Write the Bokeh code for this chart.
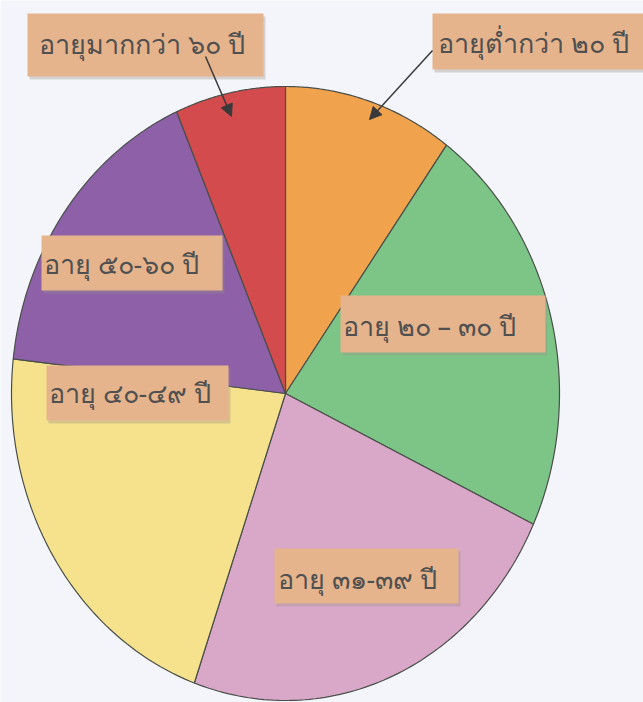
import numpy as np
from bokeh.plotting import figure
from bokeh.models import Range1d, Arrow, NormalHead, ColumnDataSource
from bokeh.core.properties import value
from bokeh.embed import file_html
from bokeh.resources import INLINE

# ---- data ----
labels = ["อายุต่ำกว่า ๒๐ ปี", "อายุ ๒๐ – ๓๐ ปี", "อายุ ๓๑-๓๙ ปี",
          "อายุ ๔๐-๔๙ ปี", "อายุ ๕๐-๖๐ ปี", "อายุมากกว่า ๖๐ ปี"]
values = [10, 22, 23.4, 21.4, 16.7, 6.5]
colors = ["#F0A24C", "#7DC587", "#D9A7C7", "#F6E28C", "#8D60A8", "#D34B4C"]

# ---- layout (screen px) ----
W, H = 643, 702
cx, cy, rx, ry = 285, 393, 274, 307
label_x = [437, 342, 277, 48, 43, 38]
label_y = [42, 325, 578, 392, 263, 43]
box_l = [432, 340, 274, 46, 41, 27]
box_r = [643, 545, 458, 228, 222, 263]
box_t = [13, 295, 548, 365, 235, 13]
box_b = [69, 352, 603, 420, 290, 76]

p = figure(width=W, height=H, output_backend="svg", toolbar_location=None,
           x_range=Range1d(0, W), y_range=Range1d(H, 0), min_border=0)
p.axis.visible = False
p.grid.visible = False
p.outline_line_color = None
p.background_fill_color = "#F3F5FA"
p.border_fill_color = "#F3F5FA"

total = sum(values)
start = 90.0
xs, ys = [], []
for v in values:
    end = start - 360.0 * v / total
    t = np.radians(np.linspace(start, end, 80))
    xs.append(list(np.concatenate([[cx], cx + rx * np.cos(t)])))
    ys.append(list(np.concatenate([[cy], cy - ry * np.sin(t)])))
    start = end
p.patches(xs, ys, fill_color=colors, line_color="#4a4f4a", line_width=1.2)

# label boxes with slight shadow
p.quad(left=[l + 2 for l in box_l], right=[r + 2 for r in box_r],
       top=[t + 3 for t in box_t], bottom=[b + 3 for b in box_b],
       fill_color="#9a8f88", fill_alpha=0.35, line_color=None)
p.quad(left=box_l, right=box_r, top=box_t, bottom=box_b,
       fill_color="#E6B48C", line_color=None)
src = ColumnDataSource(dict(x=label_x, y=label_y, text=labels))
p.text(x="x", y="y", text="text", source=src, text_font=value("Noto Sans"),
       text_font_size="27px", text_color="#505050", text_baseline="middle",
       text_align="left")

# arrows
for (x0, y0, x1, y1) in [(205, 56, 231, 116), (432, 50, 369, 119)]:
    p.add_layout(Arrow(x_start=x0, y_start=y0, x_end=x1, y_end=y1,
                       line_color="#3a3a3a", line_width=1.5,
                       end=NormalHead(size=12, fill_color="#3a3a3a", line_color="#3a3a3a")))

open("out.html", "w").write(file_html(p, INLINE))
